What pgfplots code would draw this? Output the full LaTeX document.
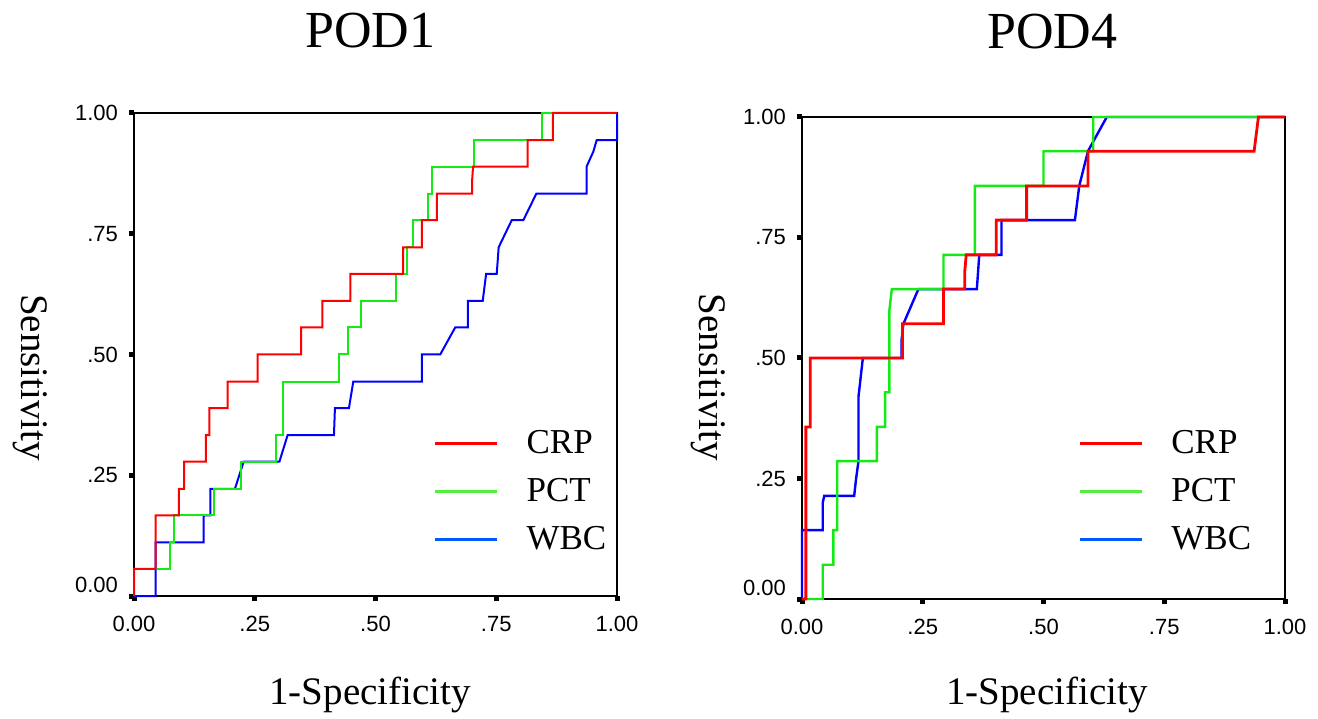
\documentclass[border=0pt]{standalone}
\usepackage{fontspec}
\setmainfont{Liberation Serif}
\newfontfamily\arial{Liberation Sans}
\usepackage{pgfplots}
\pgfplotsset{compat=1.18}

\definecolor{rocred}{RGB}{255,0,0}
\definecolor{rocgreen}{RGB}{20,235,20}
\definecolor{rocblue}{RGB}{0,0,255}
\definecolor{legred}{RGB}{255,0,0}
\definecolor{leggreen}{RGB}{80,240,60}
\definecolor{legblue}{RGB}{0,90,255}

\newcommand{\titlefont}{\fontsize{26}{30}\selectfont}
\newcommand{\labelfont}{\fontsize{19.5}{23}\selectfont}

\pgfplotsset{
  rocaxis/.style={
    scale only axis, width=241.5pt, height=241.5pt,
    xmin=0, xmax=1, ymin=0, ymax=1, clip=false,
    axis line style={line width=1pt},
    xtick={0,0.25,0.5,0.75,1}, ytick={0,0.25,0.5,0.75,1},
    xticklabels={0.00,.25,.50,.75,1.00},
    yticklabels={\raisebox{11pt}{0.00},.25,.50,.75,1.00},
    tick align=outside, major tick length=2.5pt,
    every tick/.style={black, line width=2.5pt},
    xtick pos=left, ytick pos=left,
    ticklabel style={font=\arial\fontsize{11}{13}\selectfont},
    xticklabel style={yshift=-4.25pt},
    yticklabel style={xshift=-2pt},
    legend cell align=left,
    legend style={draw=none, fill=none, anchor=north west, inner sep=0pt,
      font=\fontsize{17.5}{20}\selectfont, row sep=11pt,
      nodes={inner sep=0pt},
      /tikz/every odd column/.style={column sep=14pt}},
    legend image code/.code={\draw[##1, line width=1.6pt] (0pt,0pt) -- (31pt,0pt);},
  }
}

\begin{document}
\begin{tikzpicture}
% POD1
\begin{axis}[rocaxis, at={(67pt,61pt)}, anchor=south west,
  title={POD1},
  every axis title/.style={at={(rel axis cs:0.489,1.17)}, anchor=center, font=\titlefont},
  xlabel={1-Specificity},
  every axis x label/.style={at={(rel axis cs:0.489,-0.205)}, anchor=center, font=\labelfont},
  ylabel={Sensitivity},
  every axis y label/.style={at={(rel axis cs:-0.215,0.452)}, anchor=center, rotate=-90, font=\labelfont},
  legend style={at={(0.619,0.344)}}]
\addlegendimage{legred}\addlegendentry{CRP}
\addlegendimage{leggreen}\addlegendentry{PCT}
\addlegendimage{legblue}\addlegendentry{WBC}
\addplot[rocblue, line width=1pt, forget plot] coordinates {
(0,0) (0.045,0) (0.045,0.111) (0.144,0.111) (0.144,0.167) (0.158,0.167) (0.158,0.222)
(0.209,0.222) (0.227,0.278) (0.301,0.278) (0.318,0.333) (0.414,0.333) (0.416,0.389)
(0.445,0.389) (0.454,0.444) (0.596,0.444) (0.596,0.5) (0.634,0.5) (0.665,0.556)
(0.691,0.556) (0.691,0.611) (0.722,0.611) (0.729,0.667) (0.751,0.667) (0.755,0.722)
(0.782,0.778) (0.806,0.778) (0.833,0.833) (0.937,0.833) (0.937,0.889) (0.951,0.92)
(0.958,0.944) (1,0.944) (1,1)};
\addplot[rocgreen, line width=1pt, forget plot] coordinates {
(0,0) (0,0.056) (0.075,0.056) (0.075,0.111) (0.083,0.111) (0.083,0.167) (0.165,0.167)
(0.165,0.222) (0.221,0.222) (0.221,0.278) (0.295,0.278) (0.295,0.333) (0.308,0.333)
(0.308,0.444) (0.424,0.444) (0.424,0.5) (0.444,0.5) (0.444,0.556) (0.471,0.556)
(0.471,0.611) (0.543,0.611) (0.543,0.667) (0.565,0.667) (0.565,0.722) (0.577,0.722)
(0.577,0.778) (0.609,0.778) (0.609,0.833) (0.617,0.833) (0.617,0.889) (0.703,0.889)
(0.703,0.944) (0.844,0.944) (0.844,1) (1,1)};
\addplot[rocred, line width=1pt, forget plot] coordinates {
(0,0) (0,0.056) (0.045,0.056) (0.045,0.167) (0.093,0.167) (0.093,0.222) (0.104,0.222)
(0.104,0.278) (0.149,0.278) (0.149,0.333) (0.156,0.333) (0.156,0.389) (0.194,0.389)
(0.194,0.444) (0.256,0.444) (0.256,0.5) (0.346,0.5) (0.346,0.556) (0.39,0.556)
(0.39,0.611) (0.448,0.611) (0.448,0.667) (0.557,0.667) (0.557,0.722) (0.596,0.722)
(0.596,0.778) (0.627,0.778) (0.627,0.833) (0.70,0.833) (0.70,0.86) (0.702,0.889)
(0.815,0.889) (0.815,0.944) (0.867,0.944) (0.867,1) (1,1)};
\end{axis}
% POD4
\begin{axis}[rocaxis, at={(401pt,59.5pt)}, anchor=south west, height=241pt,
  title={POD4},
  every axis title/.style={at={(rel axis cs:0.518,1.178)}, anchor=center, font=\titlefont},
  xlabel={1-Specificity},
  every axis x label/.style={at={(rel axis cs:0.507,-0.199)}, anchor=center, font=\labelfont},
  ylabel={Sensitivity},
  every axis y label/.style={at={(rel axis cs:-0.195,0.46)}, anchor=center, rotate=-90, font=\labelfont},
  legend style={at={(0.571,0.351)}}]
\addlegendimage{legred}\addlegendentry{CRP}
\addlegendimage{leggreen}\addlegendentry{PCT}
\addlegendimage{legblue}\addlegendentry{WBC}
\addplot[rocblue, line width=1.2pt, forget plot] coordinates {
(0,0) (0,0.143) (0.043,0.143) (0.043,0.2) (0.046,0.214) (0.108,0.214) (0.112,0.25)
(0.117,0.286) (0.117,0.42) (0.126,0.5) (0.206,0.5) (0.206,0.536) (0.21,0.571)
(0.241,0.643) (0.362,0.643) (0.367,0.714) (0.413,0.714) (0.413,0.786) (0.565,0.786)
(0.574,0.857) (0.592,0.929) (0.631,1) (1,1)};
\addplot[rocgreen, line width=1.2pt, forget plot] coordinates {
(0,0) (0.043,0) (0.043,0.071) (0.065,0.071) (0.065,0.143) (0.073,0.143) (0.073,0.286)
(0.155,0.286) (0.155,0.357) (0.172,0.357) (0.172,0.429) (0.181,0.429) (0.181,0.6)
(0.186,0.643) (0.293,0.643) (0.293,0.714) (0.358,0.714) (0.358,0.857) (0.50,0.857)
(0.50,0.929) (0.603,0.929) (0.603,1) (1,1)};
\addplot[rocred, line width=1.4pt, forget plot] coordinates {
(0,0) (0.008,0) (0.008,0.357) (0.017,0.357) (0.017,0.5) (0.208,0.5) (0.208,0.571)
(0.293,0.571) (0.293,0.643) (0.337,0.643) (0.337,0.68) (0.34,0.714) (0.402,0.714)
(0.402,0.786) (0.465,0.786) (0.465,0.857) (0.592,0.857) (0.592,0.929) (0.936,0.929)
(0.945,1) (1,1)};
\end{axis}
\pgfresetboundingbox
\path[use as bounding box] (0pt,0pt) rectangle (659pt,359pt);
\end{tikzpicture}
\end{document}
